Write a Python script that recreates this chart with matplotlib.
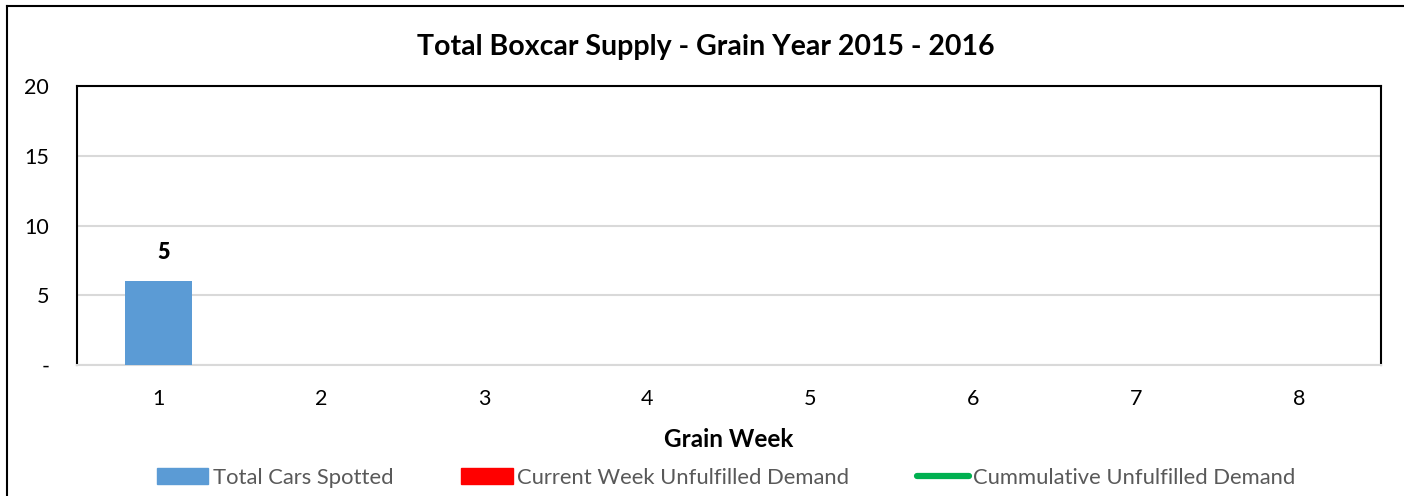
import numpy as np
import matplotlib.pyplot as plt
from matplotlib.lines import Line2D
from matplotlib.patches import Patch

weeks = [1, 2, 3, 4, 5, 6, 7, 8]
total_cars = [6, 0, 0, 0, 0, 0, 0, 0]
bar_labels = ["5", "", "", "", "", "", "", ""]
current_unfulfilled = [0, 0, 0, 0, 0, 0, 0, 0]
cumulative_unfulfilled = [np.nan] * 8
y_ticks = [0, 5, 10, 15, 20]
y_tick_labels = ["-", "5", "10", "15", "20"]

plt.rcParams["font.family"] = ["Lato", "DejaVu Sans"]

fig = plt.figure(figsize=(14.04, 4.96), dpi=100)
ax = fig.add_axes([77 / 1404, 1 - 365 / 496, (1381 - 77) / 1404, (365 - 86) / 496])

x = np.arange(len(weeks))
ax.bar(x, total_cars, width=0.405, color="#5b9bd5", zorder=3)
ax.bar(x, current_unfulfilled, width=0.405, color="#ff0000", zorder=3)
ax.plot(x, cumulative_unfulfilled, color="#00b050", lw=4, zorder=4)

for xi, v, lab in zip(x, total_cars, bar_labels):
    if lab:
        ax.text(xi + 0.03, v + 1.3, lab, ha="center", va="bottom",
                fontsize=15.5, fontweight="heavy")

ax.set_xlim(-0.5, len(weeks) - 0.5)
ax.set_ylim(0, 20)
ax.set_xticks(x)
ax.set_xticklabels([str(w) for w in weeks])
ax.set_yticks(y_ticks)
ax.set_yticklabels(y_tick_labels)
ax.tick_params(axis="both", length=0, labelsize=15.5)
ax.tick_params(axis="y", pad=20)
ax.tick_params(axis="x", pad=17)

ax.grid(axis="y", color="#d9d9d9", lw=1.5, zorder=0)
for side in ["left", "top", "right"]:
    ax.spines[side].set_color("black")
    ax.spines[side].set_linewidth(1.5)
ax.spines["bottom"].set_color("#d9d9d9")
ax.spines["bottom"].set_linewidth(1.5)

ax.set_xlabel("Grain Week", fontsize=17.5, fontweight="bold", labelpad=14)
fig.text(706 / 1404, 1 - 47 / 496, "Total Boxcar Supply - Grain Year 2015 - 2016",
         ha="center", va="center", fontsize=20.5, fontweight="bold")

handles = [
    Patch(color="#5b9bd5"),
    Patch(color="#ff0000"),
    Line2D([0], [0], color="#00b050", lw=4.5, solid_capstyle="round"),
]
names = ["Total Cars Spotted", "Current Week Unfulfilled Demand",
         "Cummulative Unfulfilled Demand"]
leg = fig.legend(handles, names, loc="center", bbox_to_anchor=(726 / 1404, 1 - 478 / 496),
                 ncol=3, frameon=False, fontsize=15.8, handlelength=2.35,
                 handleheight=0.75, handletextpad=0.2, columnspacing=3.1)
for t in leg.get_texts():
    t.set_color("#595959")

fig.add_artist(Line2D([7 / 1404, 7 / 1404], [0, 1 - 6 / 496], color="black", lw=1.5))
fig.add_artist(Line2D([7 / 1404, 1], [1 - 6 / 496, 1 - 6 / 496], color="black", lw=1.5))

fig.savefig("out.png", dpi=100)
